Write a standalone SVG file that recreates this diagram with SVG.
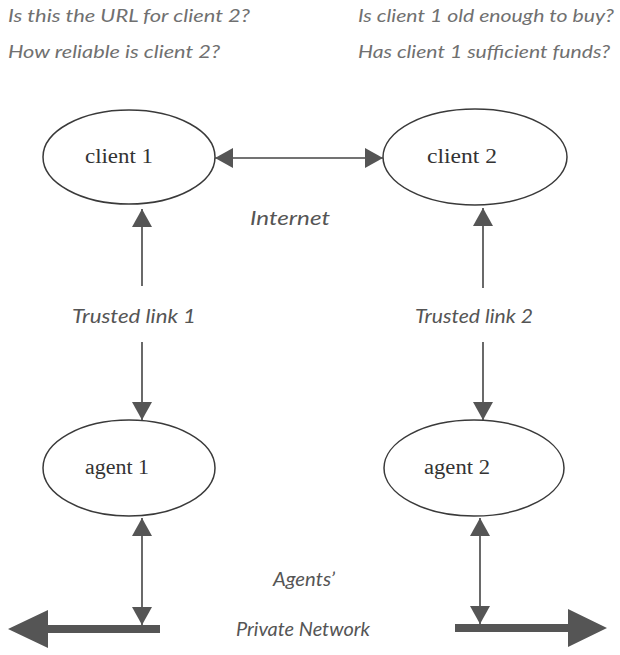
<svg xmlns="http://www.w3.org/2000/svg" width="620" height="655" viewBox="0 0 620 655">
<style>
.node ellipse{fill:#fff;stroke:#3a3a3a;stroke-width:1.5}
.lbl{font-family:"Liberation Serif",serif;font-size:20px;fill:#333}
.it{font-family:Lato,"Open Sans",sans-serif;font-style:italic;fill:#555}
.q{font-size:17px;fill:#707070}
.cap{font-size:19px}
.con line{stroke:#444;stroke-width:1.6}
.big{fill:#555}
</style>
<defs>
<marker id="ah" markerUnits="userSpaceOnUse" markerWidth="20" markerHeight="20" viewBox="0 0 18 20" refX="18" refY="10" orient="auto-start-reverse">
<path d="M0,0 L18,10 L0,20 Z" fill="#555"/>
</marker>
</defs>
<rect width="620" height="655" fill="#fff"/>

<g id="questions">
<text class="it q" x="8" y="22" textLength="242" lengthAdjust="spacingAndGlyphs">Is this the URL for client 2?</text>
<text class="it q" x="8" y="58" textLength="212" lengthAdjust="spacingAndGlyphs">How reliable is client 2?</text>
<text class="it q" x="358" y="22" textLength="256" lengthAdjust="spacingAndGlyphs">Is client 1 old enough to buy?</text>
<text class="it q" x="358" y="58" textLength="252" lengthAdjust="spacingAndGlyphs">Has client 1 sufficient funds?</text>
</g>

<g id="client1" class="node">
<ellipse cx="129" cy="157" rx="86" ry="47"/>
<text class="lbl" x="85" y="163" textLength="68" lengthAdjust="spacingAndGlyphs">client 1</text>
</g>
<g id="client2" class="node">
<ellipse cx="475" cy="157" rx="92" ry="48"/>
<text class="lbl" x="427" y="163" textLength="70" lengthAdjust="spacingAndGlyphs">client 2</text>
</g>
<g id="agent1" class="node">
<ellipse cx="129" cy="468" rx="86" ry="48"/>
<text class="lbl" x="85" y="474" textLength="64" lengthAdjust="spacingAndGlyphs">agent 1</text>
</g>
<g id="agent2" class="node">
<ellipse cx="474" cy="468" rx="90" ry="48"/>
<text class="lbl" x="424" y="474" textLength="66" lengthAdjust="spacingAndGlyphs">agent 2</text>
</g>

<g id="connectors" class="con">
<line x1="215" y1="158" x2="383" y2="158" marker-start="url(#ah)" marker-end="url(#ah)"/>
<line x1="142" y1="286" x2="142" y2="209" marker-end="url(#ah)"/>
<line x1="142" y1="342" x2="142" y2="420" marker-end="url(#ah)"/>
<line x1="483" y1="288" x2="483" y2="208" marker-end="url(#ah)"/>
<line x1="483" y1="342" x2="483" y2="420" marker-end="url(#ah)"/>
<line x1="142" y1="518" x2="142" y2="625" marker-start="url(#ah)" marker-end="url(#ah)"/>
<line x1="480" y1="518" x2="480" y2="624" marker-start="url(#ah)" marker-end="url(#ah)"/>
</g>

<g id="network">
<path class="big" d="M160,625 L48,625 L48,610 L8,629 L48,648 L48,633 L160,633 Z"/>
<path class="big" d="M455,624 L568,624 L568,609 L607,628 L568,647 L568,632 L455,632 Z"/>
</g>

<g id="labels">
<text class="it cap" x="290" y="225" text-anchor="middle" textLength="80" lengthAdjust="spacingAndGlyphs">Internet</text>
<text class="it cap" x="134" y="323" text-anchor="middle" textLength="124" lengthAdjust="spacingAndGlyphs">Trusted link 1</text>
<text class="it cap" x="474" y="323" text-anchor="middle" textLength="118" lengthAdjust="spacingAndGlyphs">Trusted link 2</text>
<text class="it cap" x="304" y="586" text-anchor="middle" textLength="62" lengthAdjust="spacingAndGlyphs">Agents’</text>
<text class="it cap" x="303" y="636" text-anchor="middle" textLength="134" lengthAdjust="spacingAndGlyphs">Private Network</text>
</g>
</svg>
